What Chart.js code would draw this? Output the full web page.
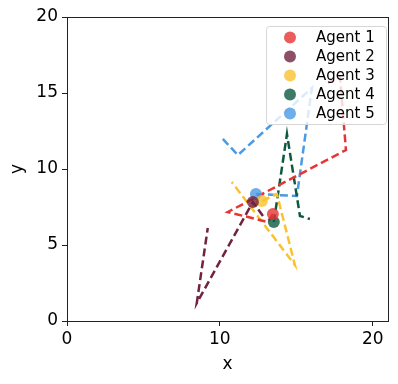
<!DOCTYPE html>
<html>
<head>
<meta charset="utf-8">
<script src="https://cdn.jsdelivr.net/npm/chart.js@4"></script>
<style>
  html, body { margin: 0; padding: 0; background: #fff; }
  #wrap { width: 398px; height: 384px; }
</style>
</head>
<body>
<div id="wrap"><canvas id="graph"></canvas></div>
<script>
const agents = ["Agent 1", "Agent 2", "Agent 3", "Agent 4", "Agent 5"]

// trajectories (dashed)
const agent1X = [13.47, 13.14, 10.52, 18.25, 17.86, 17.07]
const agent1Y = [7.04, 6.51, 7.17, 11.25, 16.05, 15.66]
const agent2X = [12.82, 12.16, 8.49, 9.21]
const agent2Y = [6.91, 7.83, 1.18, 6.12]
const agent3X = [12.09, 12.75, 13.73, 14.91, 10.78]
const agent3Y = [7.5, 7.89, 8.36, 3.68, 9.14]
const agent4X = [13.53, 14.39, 15.24, 15.89]
const agent4Y = [6.51, 12.3, 6.91, 6.71]
const agent5X = [12.36, 15.04, 16.02, 11.18, 10.07]
const agent5Y = [8.36, 8.22, 15.33, 10.92, 12.11]

// current positions (dots)
const posX = [13.47, 12.16, 12.75, 13.53, 12.36]
const posY = [7.04, 7.83, 7.89, 6.51, 8.36]

const xTicks = [0, 10, 20]
const yTicks = [0, 5, 10, 15, 20]

const colors = ["#e63535", "#722240", "#f9c22e", "#0e5a40", "#4a9ae6"]
const dotColors = ["rgba(230,53,53,0.8)", "rgba(114,34,64,0.8)", "rgba(249,194,46,0.8)", "rgba(14,90,64,0.8)", "rgba(74,154,230,0.8)"]

const pathsX = [agent1X, agent2X, agent3X, agent4X, agent5X]
const pathsY = [agent1Y, agent2Y, agent3Y, agent4Y, agent5Y]

const toPoints = (xs, ys) => xs.map((x, i) => ({ x: x, y: ys[i] }))

const datasets = []
agents.forEach((name, i) => {
  datasets.push({
    label: name + " path",
    data: toPoints(pathsX[i], pathsY[i]),
    showLine: true,
    borderColor: colors[i],
    borderWidth: 2.5,
    borderDash: [8, 4],
    pointRadius: 0,
    order: 2
  })
  datasets.push({
    label: name,
    data: [{ x: posX[i], y: posY[i] }],
    backgroundColor: dotColors[i],
    borderWidth: 0,
    pointRadius: 6,
    order: 1
  })
})

const FONT = "DejaVu Sans"
const AXIS = "#222"

const framePlugin = {
  id: "frame",
  afterDatasetsDraw(chart) {
    const { ctx, chartArea: a } = chart
    ctx.save()
    // legend box
    const bx = 266.5, by = 26.5, bw = 120, bh = 98, r = 3
    ctx.beginPath()
    ctx.roundRect(bx, by, bw, bh, r)
    ctx.fillStyle = "rgba(255,255,255,0.8)"
    ctx.fill()
    ctx.strokeStyle = "#d6d6d6"
    ctx.lineWidth = 1
    ctx.stroke()
    ctx.font = "15px '" + FONT + "'"
    ctx.textBaseline = "middle"
    ctx.fillStyle = "#000"
    agents.forEach((name, i) => {
      const y = 37.5 + i * 19
      ctx.beginPath()
      ctx.arc(290, y, 6, 0, Math.PI * 2)
      ctx.fillStyle = dotColors[i]
      ctx.fill()
      ctx.fillStyle = "#000"
      ctx.fillText(name, 316, y + 1)
    })
    // box frame
    ctx.strokeStyle = AXIS
    ctx.lineWidth = 1
    ctx.strokeRect(Math.round(a.left) + 0.5, Math.round(a.top) + 0.5, Math.round(a.right - a.left), Math.round(a.bottom - a.top))
    ctx.restore()
  }
}

new Chart(document.getElementById("graph"), {
  type: "scatter",
  data: { datasets: datasets },
  options: {
    responsive: true,
    maintainAspectRatio: false,
    animation: false,
    layout: { padding: { left: 0, right: 10, top: 17, bottom: 0 } },
    plugins: {
      legend: { display: false },
      tooltip: { enabled: false }
    },
    scales: {
      x: {
        type: "linear",
        min: 0,
        max: 21,
        afterBuildTicks: (scale) => { scale.ticks = xTicks.map(v => ({ value: v })) },
        afterFit: (scale) => { scale.height = 63 },
        ticks: { color: "#000", font: { family: FONT, size: 17 }, padding: 3, maxRotation: 0 },
        grid: { display: true, drawOnChartArea: false, drawTicks: true, tickLength: 5, tickColor: AXIS },
        border: { display: true, color: AXIS },
        title: { display: true, text: "x", color: "#000", font: { family: FONT, size: 17 }, padding: { top: 0, bottom: 9 } }
      },
      y: {
        type: "linear",
        min: 0,
        max: 20,
        afterBuildTicks: (scale) => { scale.ticks = yTicks.map(v => ({ value: v })) },
        afterFit: (scale) => { scale.width = 67 },
        ticks: { color: "#000", font: { family: FONT, size: 17 }, padding: 4 },
        grid: { display: true, drawOnChartArea: false, drawTicks: true, tickLength: 5, tickColor: AXIS },
        border: { display: true, color: AXIS },
        title: { display: true, text: "y", color: "#000", font: { family: FONT, size: 17 }, padding: { top: 7, bottom: 0 } }
      }
    }
  },
  plugins: [framePlugin]
})
</script>
</body>
</html>
